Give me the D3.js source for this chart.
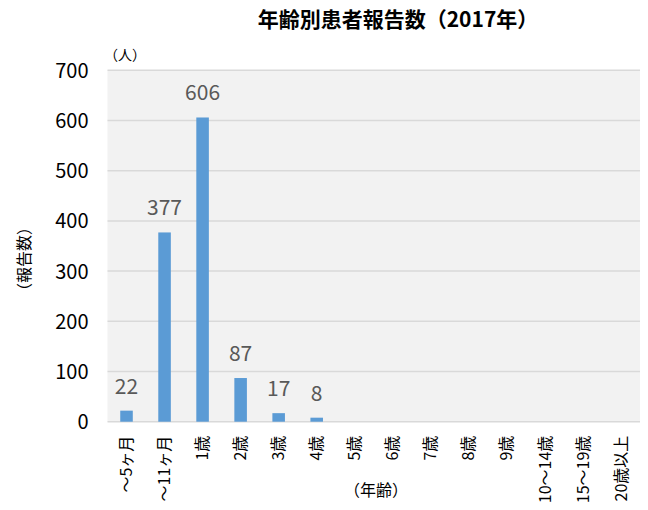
<!DOCTYPE html>
<html>
<head>
<meta charset="utf-8">
<script src="https://cdn.jsdelivr.net/npm/d3@7"></script>
<style>
  body { margin: 0; background: #fff; }
  svg { display: block; font-family: "Noto Sans CJK JP", "Noto Sans", sans-serif; }
</style>
</head>
<body>
<svg id="chart" width="648" height="510"></svg>
<script>
const categories = ["〜5ヶ月", "〜11ヶ月", "1歳", "2歳", "3歳", "4歳", "5歳", "6歳", "7歳", "8歳", "9歳", "10〜14歳", "15〜19歳", "20歳以上"];
const values = [22, 377, 606, 87, 17, 8, 0, 0, 0, 0, 0, 0, 0, 0];
const yTicks = [0, 100, 200, 300, 400, 500, 600, 700];
const title = "年齢別患者報告数（2017年）";
const yUnit = "（人）";
const yTitle = "（報告数）";
const xTitle = "（年齢）";

const svg = d3.select("#chart");
const m = { left: 107.5, right: 8, top: 70.3, bottom: 88.3 };
const W = 648, H = 510;
const x = d3.scaleBand().domain(categories).range([m.left, W - m.right]).paddingInner(0.67).paddingOuter(0.335);
const y = d3.scaleLinear().domain([0, 700]).range([H - m.bottom, m.top]);

// plot background
svg.append("rect").attr("x", m.left).attr("y", y(700)).attr("width", W - m.right - m.left).attr("height", y(0) - y(700)).attr("fill", "#f2f2f2");

// gridlines
svg.append("g").selectAll("line").data(yTicks).join("line")
  .attr("x1", m.left).attr("x2", W - m.right)
  .attr("y1", d => y(d)).attr("y2", d => y(d))
  .attr("stroke", "#d9d9d9").attr("stroke-width", 1.5);

// y axis labels
const yAxis = d3.axisLeft(y).tickValues(yTicks).tickSize(0).tickPadding(0);
const gy = svg.append("g").attr("transform", `translate(${m.left - 19},0)`).call(yAxis);
gy.select(".domain").remove();
gy.selectAll("text").attr("font-size", 20).attr("fill", "#000").attr("font-family", "'Noto Sans CJK JP', sans-serif").attr("dy", "0.35em");

// bars
svg.append("g").selectAll("rect").data(values).join("rect")
  .attr("x", (d, i) => x(categories[i]))
  .attr("width", x.bandwidth())
  .attr("y", d => y(d))
  .attr("height", d => y(0) - y(d))
  .attr("fill", "#5b9bd5");

// data labels
svg.append("g").selectAll("text").data(values.map((v, i) => [v, i]).filter(d => d[0] > 0)).join("text")
  .attr("x", d => x(categories[d[1]]) + x.bandwidth() / 2)
  .attr("y", d => y(d[0]) - 17)
  .attr("text-anchor", "middle")
  .attr("font-size", 21)
  .attr("fill", "#595959")
  .text(d => d[0]);

// x axis labels (rotated)
const xAxis = d3.axisBottom(x).tickSize(0).tickPadding(0);
const gx = svg.append("g").attr("transform", `translate(0,${y(0)})`).call(xAxis);
gx.select(".domain").remove();
gx.selectAll("text")
  .attr("font-size", 16).attr("fill", "#000")
  .attr("font-family", "'Noto Sans CJK JP', sans-serif")
  .attr("text-anchor", "end")
  .attr("transform", "rotate(-90)")
  .attr("x", -14).attr("y", 0).attr("dy", "0.35em");

// title
svg.append("text").attr("x", 398).attr("y", 27).attr("text-anchor", "middle")
  .attr("font-size", 21).attr("font-weight", "bold").attr("fill", "#000").text(title);

// y unit
svg.append("text").attr("x", 104).attr("y", 60).attr("font-size", 14).attr("fill", "#000").text(yUnit);

// y title
svg.append("text").attr("transform", "translate(30,259) rotate(-90)").attr("text-anchor", "middle")
  .attr("font-size", 16).attr("fill", "#000").text(yTitle);

// x title
svg.append("text").attr("x", 376).attr("y", 496).attr("text-anchor", "middle")
  .attr("font-size", 16).attr("fill", "#000").text(xTitle);
</script>
</body>
</html>
